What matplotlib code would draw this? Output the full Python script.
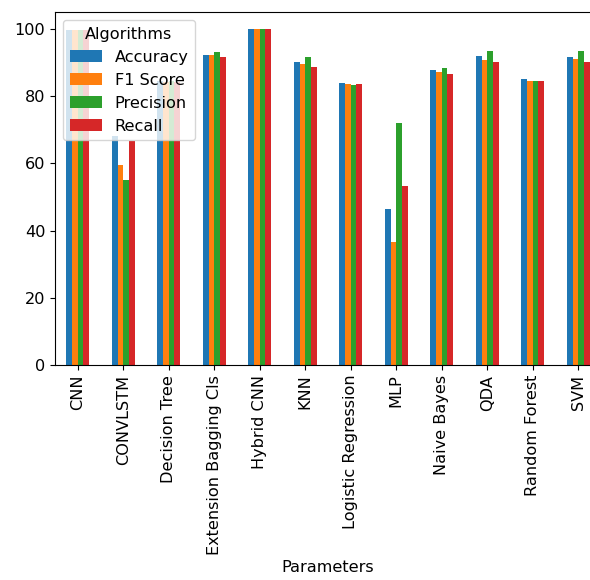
import numpy as np
import pandas as pd
import matplotlib
matplotlib.use('Agg')
import matplotlib.pyplot as plt

models = ['CNN', 'CONVLSTM', 'Decision Tree', 'Extension Bagging Cls', 'Hybrid CNN',
          'KNN', 'Logistic Regression', 'MLP', 'Naive Bayes', 'QDA', 'Random Forest', 'SVM']
accuracy  = [99.6, 68.0, 84.5, 92.3, 100.0, 90.0, 83.8, 46.3, 87.6, 91.8, 85.1, 91.6]
f1_score  = [99.5, 59.5, 84.3, 92.2, 100.0, 89.5, 83.5, 36.7, 87.2, 90.8, 84.6, 91.0]
precision = [99.6, 55.0, 84.6, 93.2, 100.0, 91.5, 83.2, 72.1, 88.2, 93.3, 84.6, 93.3]
recall    = [99.5, 66.5, 84.3, 91.5, 100.0, 88.5, 83.7, 53.3, 86.6, 90.0, 84.6, 90.0]

df = pd.DataFrame({'Accuracy': accuracy, 'F1 Score': f1_score,
                   'Precision': precision, 'Recall': recall}, index=models)
df.index.name = 'Parameters'
df.columns.name = 'Algorithms'

plt.rcParams['font.size'] = 11.6

fig = plt.figure(figsize=(5.9, 5.8), dpi=100)
# axes runs past the right edge, the reference is cropped there
ax = fig.add_axes([55/590, 1 - 365/580, 546/590, 353/580])
df.plot(kind='bar', ax=ax)
ax.legend(title='Algorithms', loc='upper left')
ax.set_xlabel('Parameters')

fig.savefig('out.png', dpi=100)
